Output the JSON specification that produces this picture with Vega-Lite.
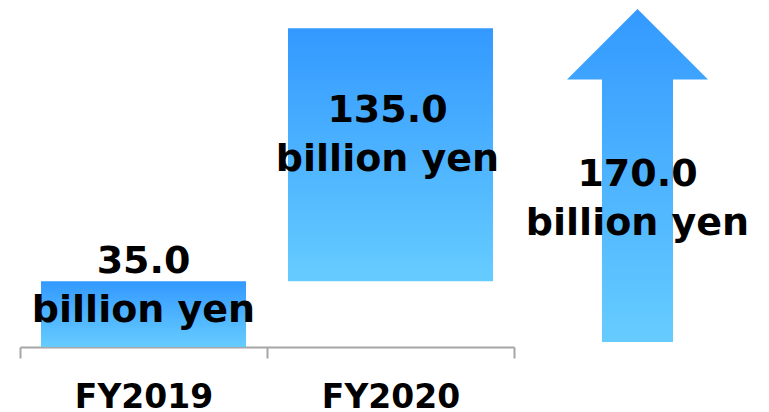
{
  "$schema": "https://vega.github.io/schema/vega-lite/v6.json",
  "width": 741,
  "height": 347,
  "autosize": {"type": "none"},
  "padding": {"left": 20, "top": 0, "right": 8, "bottom": 65},
  "config": {
    "view": {"stroke": null},
    "text": {"font": "DejaVu Sans", "fontWeight": "bold", "fontSize": 38, "color": "#000000", "lineHeight": 49, "baseline": "alphabetic", "lineBreak": "\n"}
  },
  "datasets": {
    "bars": [
      {"fy": "FY2019", "start": 0, "end": 35, "label": "35.0\nbillion yen"},
      {"fy": "FY2020", "start": 35, "end": 170, "label": "135.0\nbillion yen"}
    ],
    "total": [
      {"fy": "Total", "value": 170, "label": "170.0\nbillion yen"}
    ]
  },
  "layer": [
    {
      "data": {"name": "bars"},
      "layer": [
        {
          "mark": {
            "type": "bar",
            "width": {"band": 0.83},
            "color": {"gradient": "linear", "x1": 0, "y1": 0, "x2": 0, "y2": 1,
              "stops": [{"offset": 0, "color": "#3399FF"}, {"offset": 1, "color": "#66CCFF"}]}
          },
          "encoding": {
            "x": {
              "field": "fy", "type": "nominal", "sort": null,
              "scale": {"domain": ["FY2019", "FY2020"], "range": [0, 494], "paddingInner": 0, "paddingOuter": 0},
              "axis": {
                "title": null, "domainColor": "#a6a6a6", "domainWidth": 2,
                "tickColor": "#a6a6a6", "tickWidth": 2, "tickSize": 11, "tickBand": "extent",
                "labelFont": "DejaVu Sans", "labelFontWeight": "bold", "labelFontSize": 33,
                "labelColor": "#000000", "labelPadding": 49, "labelBaseline": "alphabetic", "labelAngle": 0
              }
            },
            "y": {"field": "start", "type": "quantitative", "scale": {"domain": [0, 185], "nice": false, "zero": false}, "axis": null},
            "y2": {"field": "end"}
          }
        },
        {
          "transform": [{"filter": "datum.fy === 'FY2019'"}],
          "mark": {"type": "text", "dy": -8},
          "encoding": {
            "x": {"field": "fy", "type": "nominal", "sort": null},
            "y": {"field": "end", "type": "quantitative"},
            "text": {"field": "label"}
          }
        },
        {
          "transform": [{"filter": "datum.fy === 'FY2020'"}],
          "mark": {"type": "text", "dy": 94, "dx": -3},
          "encoding": {
            "x": {"field": "fy", "type": "nominal", "sort": null},
            "y": {"field": "end", "type": "quantitative"},
            "text": {"field": "label"}
          }
        }
      ]
    },
    {
      "data": {"name": "total"},
      "layer": [
        {
          "mark": {
            "type": "point", "filled": true, "opacity": 1, "size": 110889, "strokeWidth": 0,
            "shape": "M0,-0.115L0.4234,0.3087L0.2132,0.3087L0.2132,1.885L-0.2132,1.885L-0.2132,0.3087L-0.4234,0.3087Z",
            "color": {"gradient": "linear", "x1": 0, "y1": 0, "x2": 0, "y2": 1,
              "stops": [{"offset": 0, "color": "#3399FF"}, {"offset": 1, "color": "#66CCFF"}]}
          },
          "encoding": {
            "x": {"field": "fy", "type": "nominal", "scale": {"domain": ["FY2019", "FY2020", "Total"], "paddingInner": 0, "paddingOuter": 0}, "axis": null},
            "y": {"field": "value", "type": "quantitative", "scale": {"domain": [0, 185], "nice": false, "zero": false}, "axis": null}
          }
        },
        {
          "mark": {"type": "text", "dy": 158},
          "encoding": {
            "x": {"field": "fy", "type": "nominal"},
            "y": {"field": "value", "type": "quantitative"},
            "text": {"field": "label"}
          }
        }
      ]
    }
  ],
  "resolve": {"scale": {"x": "independent"}}
}
